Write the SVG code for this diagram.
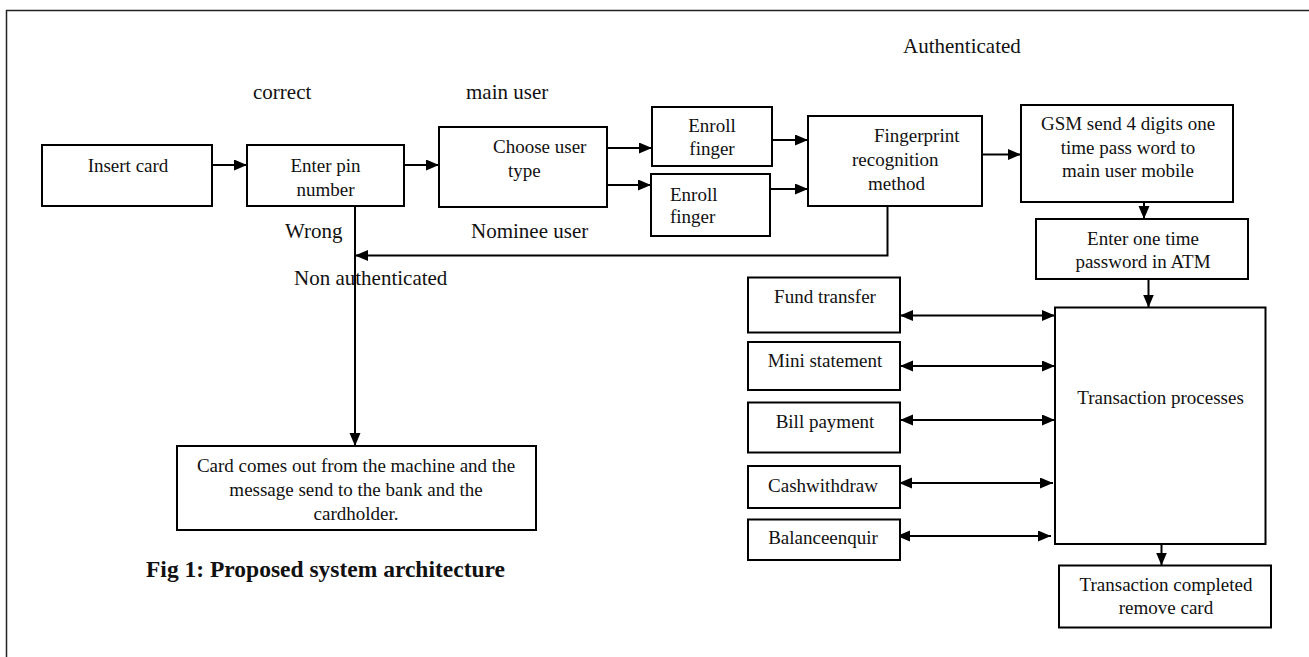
<svg xmlns="http://www.w3.org/2000/svg" width="1309" height="657" viewBox="0 0 1309 657">
<defs>
<marker id="ah" markerUnits="userSpaceOnUse" markerWidth="14" markerHeight="12" refX="13" refY="5.5" orient="auto-start-reverse">
<path d="M0,0 L13,5.5 L0,11 z" fill="#000"/>
</marker>
<style>
.box{fill:#fff;stroke:#000;stroke-width:2}
.t{font-family:"Liberation Serif","Times New Roman",serif;font-size:19px;fill:#111}
.c{text-anchor:middle}
.lbl{font-family:"Liberation Serif","Times New Roman",serif;font-size:21px;fill:#111}
.ln{fill:none;stroke:#000;stroke-width:2}
.arr{fill:none;stroke:#000;stroke-width:2;marker-end:url(#ah)}
.dbl{fill:none;stroke:#000;stroke-width:2;marker-end:url(#ah);marker-start:url(#ah)}
</style>
</defs>
<rect width="1309" height="657" fill="#fff"/>
<path d="M1309,10.5 H6.5 V657" fill="none" stroke="#222" stroke-width="1.5"/>

<g id="connectors">
<line class="arr" x1="212" y1="165" x2="247" y2="165"/>
<line class="arr" x1="402" y1="165" x2="439" y2="165"/>
<line class="arr" x1="607" y1="148" x2="652" y2="148"/>
<line class="arr" x1="607" y1="185" x2="651" y2="185"/>
<line class="arr" x1="768" y1="140" x2="808" y2="140"/>
<line class="arr" x1="766" y1="189" x2="808" y2="189"/>
<line class="arr" x1="978" y1="154.5" x2="1021" y2="154.5"/>
<line class="arr" x1="1144" y1="202" x2="1144" y2="219"/>
<polyline class="arr" points="887.5,206 887.5,255.5 355,255.5"/>
<line class="arr" x1="355" y1="206" x2="355" y2="446"/>
<line class="arr" x1="1148.5" y1="279" x2="1148.5" y2="307.5"/>
<line class="dbl" x1="900" y1="315.5" x2="1055" y2="315.5"/>
<line class="dbl" x1="900" y1="366" x2="1055" y2="366"/>
<line class="dbl" x1="900" y1="420" x2="1055" y2="420"/>
<line class="dbl" x1="899" y1="483" x2="1053" y2="483"/>
<line class="dbl" x1="897" y1="536" x2="1051" y2="536"/>
<line class="arr" x1="1161.5" y1="541" x2="1161.5" y2="565.5"/>
</g>

<g id="labels">
<text class="lbl" x="253" y="99">correct</text>
<text class="lbl" x="466" y="99">main user</text>
<text class="lbl" x="903" y="53">Authenticated</text>
<text class="lbl" x="285" y="238">Wrong</text>
<text class="lbl" x="471" y="238">Nominee user</text>
<text class="lbl" x="294" y="285">Non authenticated</text>
</g>

<g id="insert-card">
<rect class="box" x="42" y="145" width="170" height="61"/>
<text class="t c" x="128" y="172">Insert card</text>
</g>
<g id="enter-pin">
<rect class="box" x="247" y="145" width="157" height="61"/>
<text class="t c" x="325.5" y="172">Enter pin</text>
<text class="t c" x="325.5" y="196">number</text>
</g>
<g id="choose-user-type">
<rect class="box" x="439" y="127" width="168" height="80"/>
<text class="t" x="493" y="153">Choose user</text>
<text class="t" x="508" y="177">type</text>
</g>
<g id="enroll-finger-1">
<rect class="box" x="652" y="107" width="120" height="59"/>
<text class="t c" x="712" y="132">Enroll</text>
<text class="t c" x="712" y="155">finger</text>
</g>
<g id="enroll-finger-2">
<rect class="box" x="651" y="174" width="119" height="62"/>
<text class="t" x="670" y="201">Enroll</text>
<text class="t" x="670" y="223">finger</text>
</g>
<g id="fingerprint">
<rect class="box" x="808" y="116" width="174" height="90"/>
<text class="t" x="874" y="142">Fingerprint</text>
<text class="t" x="852" y="166">recognition</text>
<text class="t" x="868" y="190">method</text>
</g>
<g id="gsm">
<rect class="box" x="1021" y="105" width="212" height="97"/>
<text class="t c" x="1128" y="130">GSM send 4 digits one</text>
<text class="t c" x="1128" y="154">time pass word to</text>
<text class="t c" x="1128" y="177">main user mobile</text>
</g>
<g id="enter-otp">
<rect class="box" x="1036" y="219" width="212" height="60"/>
<text class="t c" x="1143" y="245">Enter one time</text>
<text class="t c" x="1143" y="268">password in ATM</text>
</g>
<g id="card-out">
<rect class="box" x="177" y="446" width="359" height="84"/>
<text class="t c" x="356" y="472">Card comes out from the machine and the</text>
<text class="t c" x="356" y="496">message send to the bank and the</text>
<text class="t c" x="356" y="520">cardholder.</text>
</g>
<g id="fund-transfer">
<rect class="box" x="748" y="277.5" width="152" height="55"/>
<text class="t c" x="825" y="303">Fund transfer</text>
</g>
<g id="mini-statement">
<rect class="box" x="748" y="342" width="152" height="48"/>
<text class="t c" x="825" y="367">Mini statement</text>
</g>
<g id="bill-payment">
<rect class="box" x="748" y="402.5" width="152" height="50"/>
<text class="t c" x="825" y="428">Bill payment</text>
</g>
<g id="cashwithdraw">
<rect class="box" x="748" y="466" width="152" height="42"/>
<text class="t c" x="823" y="492">Cashwithdraw</text>
</g>
<g id="balanceenquir">
<rect class="box" x="748" y="519.5" width="152" height="40.5"/>
<text class="t c" x="823" y="544">Balanceenquir</text>
</g>
<g id="transaction-processes">
<rect class="box" x="1055" y="307.5" width="210.5" height="236.5"/>
<text class="t c" x="1160.5" y="404">Transaction processes</text>
</g>
<g id="transaction-completed">
<rect class="box" x="1059" y="565.5" width="212" height="62"/>
<text class="t c" x="1166" y="591">Transaction completed</text>
<text class="t c" x="1166" y="614">remove card</text>
</g>
<g id="caption">
<text x="146" y="577" font-family="'Liberation Serif','Times New Roman',serif" font-size="23.5" font-weight="bold" fill="#111">Fig 1: Proposed system architecture</text>
</g>
</svg>
